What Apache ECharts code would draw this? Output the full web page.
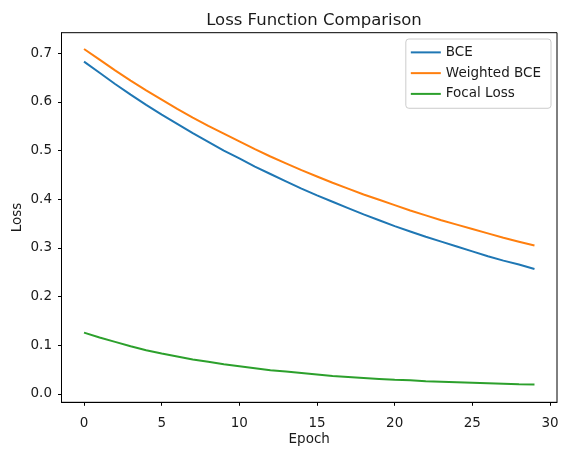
<!doctype html>
<html>
<head>
    <title>Loss Function Comparison</title>
    <script src="https://cdn.jsdelivr.net/npm/echarts@6/dist/echarts.min.js"></script>
</head>
<body style="margin:0;">
<div id="chart" style="width: 569px; height: 455px;"></div>
<script type="text/javascript">

    // values
    var epochs = [];
    for (var i = 0; i < 30; i++) epochs.push(i);

    var bce = [0.683, 0.660, 0.637, 0.615, 0.594, 0.574, 0.555, 0.536, 0.518, 0.500,
               0.484, 0.467, 0.452, 0.437, 0.422, 0.408, 0.395, 0.382, 0.369, 0.357,
               0.345, 0.334, 0.323, 0.313, 0.303, 0.293, 0.283, 0.274, 0.266, 0.257];
    var weightedBce = [0.709, 0.687, 0.665, 0.644, 0.624, 0.605, 0.586, 0.568, 0.551, 0.535,
                       0.519, 0.503, 0.488, 0.474, 0.460, 0.447, 0.434, 0.422, 0.410, 0.399,
                       0.388, 0.377, 0.367, 0.357, 0.348, 0.339, 0.330, 0.321, 0.313, 0.305];
    var focal = [0.126, 0.116, 0.107, 0.098, 0.090, 0.083, 0.077, 0.071, 0.066, 0.061,
                 0.057, 0.053, 0.049, 0.046, 0.043, 0.040, 0.037, 0.035, 0.033, 0.031,
                 0.029, 0.028, 0.026, 0.025, 0.024, 0.023, 0.022, 0.021, 0.020, 0.0195];

    var xTicks = [0, 5, 10, 15, 20, 25, 30];
    var yTicks = [0, 0.1, 0.2, 0.3, 0.4, 0.5, 0.6, 0.7];

    function pairs(ys) {
        return ys.map(function (y, i) { return [epochs[i], y]; });
    }

    var font = 'DejaVu Sans';
    var txt = '#1a1a1a';

    var myChart = echarts.init(document.getElementById('chart'));

    var option = {
        animation: false,
        textStyle: {fontFamily: font},
        title: {
            text: 'Loss Function Comparison',
            left: 309,
            textAlign: 'center',
            top: -1,
            textStyle: {fontFamily: font, fontSize: 16.5, fontWeight: 'normal', color: txt}
        },
        legend: {
            orient: 'vertical',
            right: 18,
            top: 39,
            padding: [0, 10, 1, 5],
            itemWidth: 30,
            itemHeight: 2,
            itemGap: -6,
            icon: 'rect',
            borderColor: '#cccccc',
            borderWidth: 1,
            borderRadius: 3,
            backgroundColor: '#ffffff',
            textStyle: {fontFamily: font, fontSize: 13.5, color: txt},
            data: ['BCE', 'Weighted BCE', 'Focal Loss']
        },
        grid: {
            left: 61.5,
            right: 12,
            top: 32.7,
            bottom: 52.7,
            outerBoundsMode: 'none',
            containLabel: false,
            show: true,
            borderColor: '#000',
            borderWidth: 1
        },
        xAxis: {
            type: 'value',
            min: -1.45,
            max: 30.45,
            name: 'Epoch',
            nameLocation: 'middle',
            nameGap: 24,
            nameMoveOverlap: false,
            nameTextStyle: {fontFamily: font, fontSize: 13.5, color: txt},
            splitLine: {show: false},
            axisLine: {show: true, onZero: false, lineStyle: {color: '#000', width: 1}},
            axisTick: {show: true, length: 3.5, lineStyle: {color: '#000'}, customValues: xTicks},
            axisLabel: {fontFamily: font, fontSize: 13.5, color: txt, margin: 8, customValues: xTicks}
        },
        yAxis: {
            type: 'value',
            min: -0.0171,
            max: 0.7424,
            name: 'Loss',
            nameLocation: 'middle',
            nameGap: 31,
            nameMoveOverlap: false,
            nameTextStyle: {fontFamily: font, fontSize: 13.5, color: txt},
            splitLine: {show: false},
            axisLine: {show: true, onZero: false, lineStyle: {color: '#000', width: 1}},
            axisTick: {show: true, length: 3.5, lineStyle: {color: '#000'}, customValues: yTicks},
            axisLabel: {
                fontFamily: font, fontSize: 13.5, color: txt, margin: 9.5, customValues: yTicks,
                formatter: function (v) { return v.toFixed(1); }
            }
        },
        series: [
            {
                name: 'BCE', type: 'line', showSymbol: false, symbol: 'none',
                color: '#1f77b4', lineStyle: {width: 2, color: '#1f77b4'},
                data: pairs(bce)
            },
            {
                name: 'Weighted BCE', type: 'line', showSymbol: false, symbol: 'none',
                color: '#ff7f0e', lineStyle: {width: 2, color: '#ff7f0e'},
                data: pairs(weightedBce)
            },
            {
                name: 'Focal Loss', type: 'line', showSymbol: false, symbol: 'none',
                color: '#2ca02c', lineStyle: {width: 2, color: '#2ca02c'},
                data: pairs(focal)
            }
        ]
    };

    myChart.setOption(option);

</script>
</body>
</html>
